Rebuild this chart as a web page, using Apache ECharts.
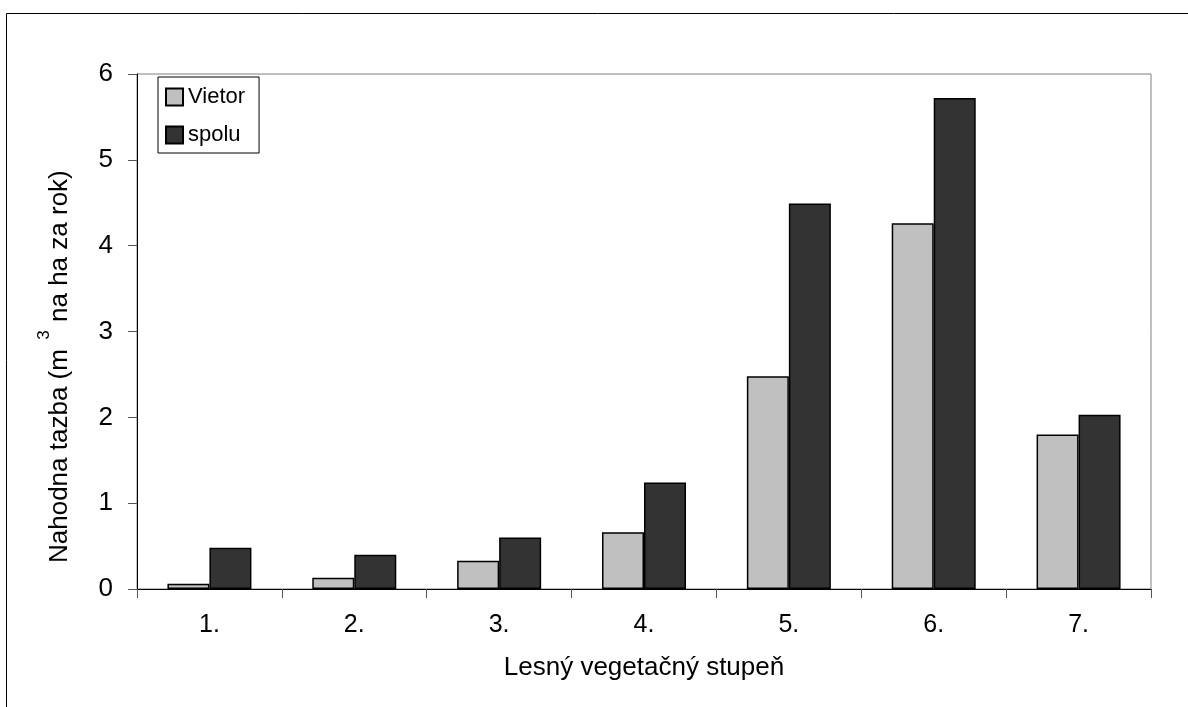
<!DOCTYPE html>
<html>
<head>
<meta charset="utf-8">
<script src="https://cdn.jsdelivr.net/npm/echarts@6/dist/echarts.min.js"></script>
<style>
html,body{margin:0;padding:0;background:#fff;}
#chart{width:1188px;height:707px;}
</style>
</head>
<body>
<div id="chart"></div>
<script>
const categories = ['1.', '2.', '3.', '4.', '5.', '6.', '7.'];
const vietor = [0.06, 0.13, 0.33, 0.66, 2.48, 4.26, 1.80];
const spolu = [0.48, 0.40, 0.60, 1.24, 4.49, 5.72, 2.03];
const seriesNames = ['Vietor', 'spolu'];
const yTicks = { min: 0, max: 6, interval: 1 };
const xAxisTitle = 'Lesný vegetačný stupeň';
const yAxisTitleParts = ['Nahodna tazba (m', '3', 'na ha za rok)'];

const FONT = '"Liberation Sans", Arial, sans-serif';
const chart = echarts.init(document.getElementById('chart'));
chart.setOption({
  animation: false,
  backgroundColor: '#fff',
  textStyle: { fontFamily: FONT, color: '#000' },
  grid: { left: 137, right: 37, top: 74, bottom: 118, show: true, borderColor: '#808080', borderWidth: 1 },
  legend: {
    left: 158, top: 77, orient: 'vertical',
    backgroundColor: '#fff', borderColor: '#000', borderWidth: 1,
    padding: [9, 14, 7, 7],
    icon: 'rect',
    itemWidth: 17, itemHeight: 17, itemGap: 16,
    textStyle: { fontFamily: FONT, fontSize: 22, color: '#000', lineHeight: 20 },
    data: seriesNames
  },
  xAxis: {
    type: 'category', data: categories,
    name: xAxisTitle, nameLocation: 'middle', nameGap: 66,
    nameTextStyle: { fontFamily: FONT, fontSize: 26, color: '#000' },
    axisLine: { lineStyle: { color: '#000', width: 1 } },
    axisTick: { show: true, length: 9, lineStyle: { color: '#555' } },
    axisLabel: { fontFamily: FONT, fontSize: 25, color: '#000', margin: 24 }
  },
  yAxis: {
    type: 'value', min: yTicks.min, max: yTicks.max, interval: yTicks.interval,
    splitLine: { show: false },
    axisLine: { show: true, lineStyle: { color: '#000', width: 1 } },
    axisTick: { show: true, length: 9, lineStyle: { color: '#555' } },
    axisLabel: { fontFamily: FONT, fontSize: 26, color: '#000', margin: 24 }
  },
  graphic: [
    { type: 'rect', left: 4, top: 11, shape: { width: 1300, height: 800 }, style: { fill: 'none', stroke: '#000', lineWidth: 1 }, silent: true, z: -10 },
    {
      type: 'text', x: 60, y: 563, rotation: Math.PI / 2,
      style: { text: yAxisTitleParts[0], fontFamily: FONT, fontSize: 26, fill: '#000', align: 'left', verticalAlign: 'middle' }
    },
    {
      type: 'text', x: 44, y: 335, rotation: Math.PI / 2,
      style: { text: yAxisTitleParts[1], fontFamily: FONT, fontSize: 17, fill: '#000', align: 'center', verticalAlign: 'middle' }
    },
    {
      type: 'text', x: 60, y: 322, rotation: Math.PI / 2,
      style: { text: yAxisTitleParts[2], fontFamily: FONT, fontSize: 26, fill: '#000', align: 'left', verticalAlign: 'middle' }
    }
  ],
  series: [
    {
      name: seriesNames[0], type: 'bar', data: vietor, barWidth: 42, barGap: '0%',
      itemStyle: { color: '#C0C0C0', borderColor: '#000', borderWidth: 1.5 }
    },
    {
      name: seriesNames[1], type: 'bar', data: spolu, barWidth: 42, barGap: '0%',
      itemStyle: { color: '#333333', borderColor: '#000', borderWidth: 1.5 }
    }
  ]
});
</script>
</body>
</html>
